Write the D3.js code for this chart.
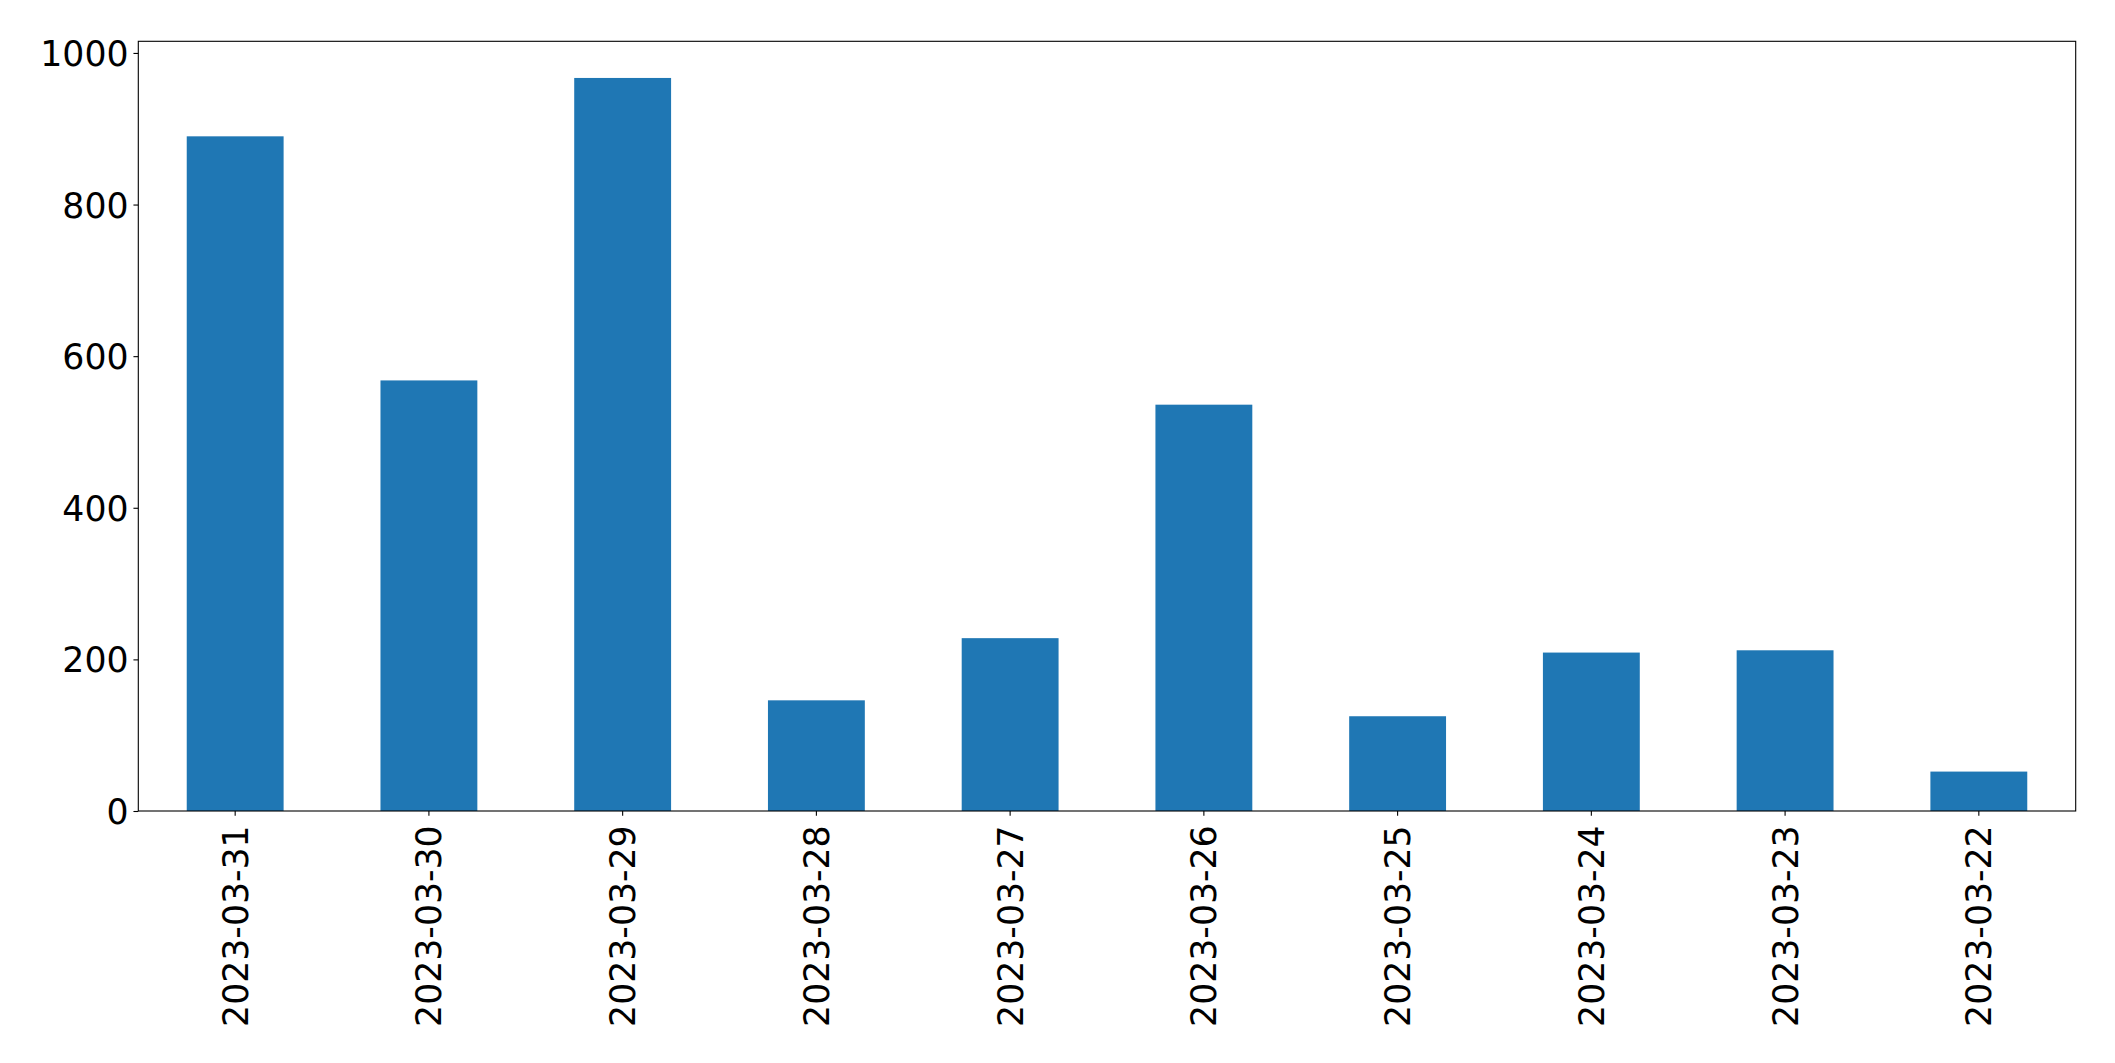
<!DOCTYPE html>
<html>
<head>
<meta charset="utf-8">
<script src="https://cdn.jsdelivr.net/npm/d3@7"></script>
<style>
  html, body { margin: 0; padding: 0; background: #fff; }
  svg { display: block; }
</style>
</head>
<body>
<svg id="chart" width="2115" height="1063"></svg>
<script>
const categories = ["2023-03-31","2023-03-30","2023-03-29","2023-03-28","2023-03-27","2023-03-26","2023-03-25","2023-03-24","2023-03-23","2023-03-22"];
const values = [890, 568, 967, 146, 228, 536, 125, 209, 212, 52];
const yTicks = [0, 200, 400, 600, 800, 1000];

const W = 2115, H = 1063;
const margin = {left: 138.3, top: 41.3, right: W - 2075.7, bottom: H - 811};
const fontSize = 34.7;
const tickLen = 4.86, tickPad = 4.86;
const color = "#1f77b4";

const svg = d3.select("#chart");
const g = svg.append("g");

const x = d3.scaleBand()
  .domain(categories)
  .range([margin.left, W - margin.right])
  .paddingInner(0.5).paddingOuter(0.25);

const yMax = d3.max(values) * 1.05;
const y = d3.scaleLinear().domain([0, yMax]).range([H - margin.bottom, margin.top]);

// bars
g.selectAll("rect.bar").data(values).join("rect")
  .attr("class", "bar")
  .attr("x", (d, i) => x(categories[i]))
  .attr("width", x.bandwidth())
  .attr("y", d => y(d))
  .attr("height", d => y(0) - y(d))
  .attr("fill", color);

// y axis
const yAxis = d3.axisLeft(y).tickValues(yTicks).tickSize(tickLen).tickPadding(tickPad).tickFormat(d3.format("d"));
const yg = g.append("g").attr("transform", `translate(${margin.left},0)`).call(yAxis);
yg.select(".domain").remove();
yg.selectAll(".tick line").attr("stroke", "#000").attr("stroke-width", 1.1);
yg.selectAll(".tick text")
  .attr("font-family", "DejaVu Sans")
  .attr("font-size", fontSize)
  .attr("fill", "#000")
  .attr("dy", "0.36em");

// x axis
const xAxis = d3.axisBottom(x).tickSize(tickLen).tickPadding(tickPad);
const xg = g.append("g").attr("transform", `translate(0,${H - margin.bottom})`).call(xAxis);
xg.select(".domain").remove();
xg.selectAll(".tick line").attr("stroke", "#000").attr("stroke-width", 1.1);
xg.selectAll(".tick text")
  .attr("font-family", "DejaVu Sans")
  .attr("font-size", fontSize)
  .attr("fill", "#000")
  .attr("text-anchor", "end")
  .attr("transform", `rotate(-90)`)
  .attr("x", -(tickLen + tickPad + 4.6))
  .attr("y", 0)
  .attr("dy", "0.36em");

// frame (spines)
g.append("rect")
  .attr("x", margin.left)
  .attr("y", margin.top)
  .attr("width", W - margin.right - margin.left)
  .attr("height", H - margin.bottom - margin.top)
  .attr("fill", "none")
  .attr("stroke", "#000")
  .attr("stroke-width", 1.1);
</script>
</body>
</html>
